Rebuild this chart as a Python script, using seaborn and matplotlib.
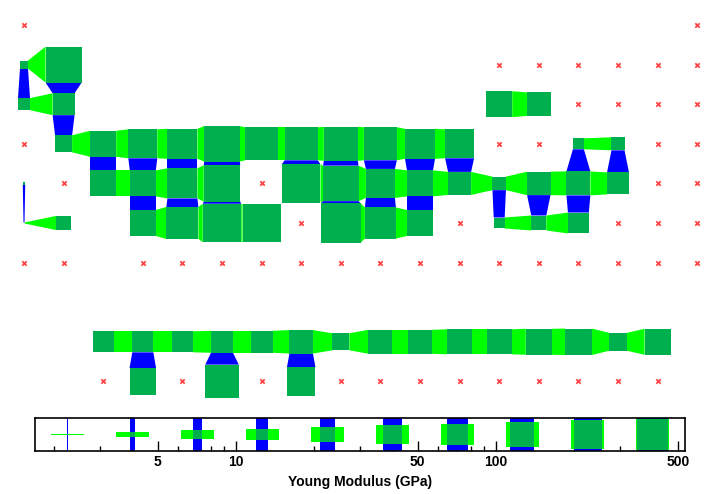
import numpy as np
import pandas as pd
import matplotlib
matplotlib.use("Agg")
import matplotlib.pyplot as plt
from matplotlib.patches import Polygon, Rectangle
from matplotlib.ticker import NullFormatter, FixedLocator
import seaborn as sns

# ---------------- data ----------------
# SOM map nodes: grid column, grid row, Young modulus (GPa)
node_col = [0, 1,
            0, 1, 12, 13,
            1, 2, 3, 4, 5, 6, 7, 8, 9, 10, 11, 14, 15,
            0, 2, 3, 4, 5, 7, 8, 9, 10, 11, 12, 13, 14, 15,
            0, 1, 3, 4, 5, 6, 8, 9, 10, 12, 13, 14,
            2, 3, 4, 5, 6, 7, 8, 9, 10, 11, 12, 13, 14, 15, 16,
            3, 5, 7]
node_row = [1, 1,
            2, 2, 2, 2,
            3, 3, 3, 3, 3, 3, 3, 3, 3, 3, 3, 3, 3,
            4, 4, 4, 4, 4, 4, 4, 4, 4, 4, 4, 4, 4, 4,
            5, 5, 5, 5, 5, 5, 5, 5, 5, 5, 5, 5,
            8, 8, 8, 8, 8, 8, 8, 8, 8, 8, 8, 8, 8, 8, 8,
            9, 9, 9]
node_E = [5.4, 316,
          9.7, 41, 74, 51,
          20, 74, 114, 132, 294, 204, 204, 236, 204, 132, 114, 8.3, 11.2,
          2.4, 74, 74, 132, 340, 455, 294, 114, 74, 48, 12, 51, 55, 41,
          1.95, 13.5, 74, 177, 455, 423, 533, 153, 74, 8.3, 14.9, 35,
          36, 36, 36, 41, 41, 51, 20, 55, 55, 64, 64, 74, 80, 23, 74,
          80, 220, 106]

# empty map cells (red crosses)
empty_col = [0, 17,
             12, 13, 14, 15, 16, 17,
             14, 15, 16, 17,
             0, 12, 13, 16, 17,
             1, 6, 16, 17,
             7, 11, 15, 16, 17,
             0, 1, 3, 4, 5, 6, 7, 8, 9, 10, 11, 12, 13, 14, 15, 16, 17,
             2, 4, 6, 8, 9, 10, 11, 12, 13, 14, 15, 16]
empty_row = [0, 0,
             1, 1, 1, 1, 1, 1,
             2, 2, 2, 2,
             3, 3, 3, 3, 3,
             4, 4, 4, 4,
             5, 5, 5, 5, 5,
             6, 6, 6, 6, 6, 6, 6, 6, 6, 6, 6, 6, 6, 6, 6, 6, 6,
             9, 9, 9, 9, 9, 9, 9, 9, 9, 9, 9, 9]

# size scale (legend)
E_MIN, E_MAX = 1.687, 533.0
legend_E = [2.25, 4.0, 7.11, 12.6, 22.5, 40.0, 71.1, 126, 225, 400]
tick_values = [5, 10, 50, 100, 500]
tick_labels = ["5", "10", "50", "100", "500"]
minor_values = [2, 3, 4, 6, 7, 8, 9, 20, 30, 40, 60, 70, 80, 90, 200, 300, 400]
xlabel = "Young Modulus (GPa)"

# ---------------- style ----------------
sns.set_theme(style="white")
plt.rcParams["font.family"] = ["Liberation Sans", "DejaVu Sans"]
plt.rcParams["font.weight"] = "bold"

C_NODE = "#00b04f"
C_HLINK = "#00ff00"
C_VLINK = "#0000ff"
C_EMPTY = "#ff4545"

W, H = 720, 494
fig = plt.figure(figsize=(W / 100, H / 100), dpi=100)
fig.patch.set_facecolor("white")

# main map axes in grid units (one cell = 39.6 px)
CELL = 39.6
ax = fig.add_axes([0, 0, 1, 1])
ax.set_axis_off()

nodes = pd.DataFrame({"col": node_col, "row": node_row, "E": node_E})
lmin, lmax = np.log10(E_MIN), np.log10(E_MAX)
nodes["size"] = (np.log10(nodes["E"]) - lmin) / (lmax - lmin)
size_of = {(c, r): s for c, r, s in zip(nodes["col"], nodes["row"], nodes["size"])}

# links
for (c, r), sa in size_of.items():
    if (c + 1, r) in size_of:
        sb = size_of[(c + 1, r)]
        ax.add_patch(Polygon([(c + sa / 2, r - sa / 2), (c + 1 - sb / 2, r - sb / 2),
                              (c + 1 - sb / 2, r + sb / 2), (c + sa / 2, r + sa / 2)],
                             closed=True, facecolor=C_HLINK, edgecolor="none", zorder=2))
    if (c, r + 1) in size_of:
        sb = size_of[(c, r + 1)]
        ax.add_patch(Polygon([(c - sa / 2, r + sa / 2), (c + sa / 2, r + sa / 2),
                              (c + sb / 2, r + 1 - sb / 2), (c - sb / 2, r + 1 - sb / 2)],
                             closed=True, facecolor=C_VLINK, edgecolor="none", zorder=2))
# nodes
for (c, r), s in size_of.items():
    ax.add_patch(Rectangle((c - s / 2, r - s / 2), s, s, facecolor=C_NODE,
                           edgecolor="none", zorder=3))

empty = pd.DataFrame({"col": empty_col, "row": empty_row})
sns.scatterplot(data=empty, x="col", y="row", marker="x", color=C_EMPTY, s=10,
                linewidth=1.3, ax=ax, legend=False, zorder=4)
ax.set_axis_off()
ax.set_xlim(-24 / CELL, (W - 24) / CELL)
ax.set_ylim((H - 25) / CELL, -25 / CELL)

# legend / scale axes
BX0, BX1, BY0, BY1 = 35, 685, 418, 451
lax = fig.add_axes([BX0 / W, (H - BY1) / H, (BX1 - BX0) / W, (BY1 - BY0) / H])
lax.set_facecolor("none")
lax.set_xscale("log")
lax.set_xlim(E_MIN, E_MAX)
lax.set_ylim(0, 1)
cell_dec = (lmax - lmin) * (BY1 - BY0) / (BX1 - BX0)
for e in legend_E:
    f = (np.log10(e) - lmin) / (lmax - lmin)
    lc = np.log10(e)
    xa, xb = 10 ** (lc - f * cell_dec / 2), 10 ** (lc + f * cell_dec / 2)
    xA, xB = 10 ** (lc - cell_dec / 2), 10 ** (lc + cell_dec / 2)
    lax.add_patch(Rectangle((xa, 0), xb - xa, 1, facecolor=C_VLINK, edgecolor="none", zorder=1))
    lax.add_patch(Rectangle((xA, 0.5 - f / 2), xB - xA, f, facecolor=C_HLINK, edgecolor="none", zorder=2))
    lax.add_patch(Rectangle((xa, 0.5 - f / 2), xb - xa, f, facecolor=C_NODE, edgecolor="none", zorder=3))

for sp in lax.spines.values():
    sp.set_visible(True)
    sp.set_color("black")
    sp.set_linewidth(1.2)
lax.xaxis.set_major_locator(FixedLocator(tick_values))
lax.set_xticklabels(tick_labels)
lax.xaxis.set_minor_locator(FixedLocator(minor_values))
lax.xaxis.set_minor_formatter(NullFormatter())
lax.set_yticks([])
lax.tick_params(axis="x", which="major", direction="in", length=7, width=1,
                pad=3, labelsize=10, bottom=True, top=False, colors="black")
lax.tick_params(axis="x", which="minor", direction="in", length=3.5, width=1,
                bottom=True, top=False, colors="black")
for t in lax.get_xticklabels():
    t.set_fontweight("bold")

fig.text(0.5, 8 / H, xlabel, ha="center", va="baseline", fontsize=10,
         fontweight="bold", color="black")

fig.savefig("out.png", dpi=100)
